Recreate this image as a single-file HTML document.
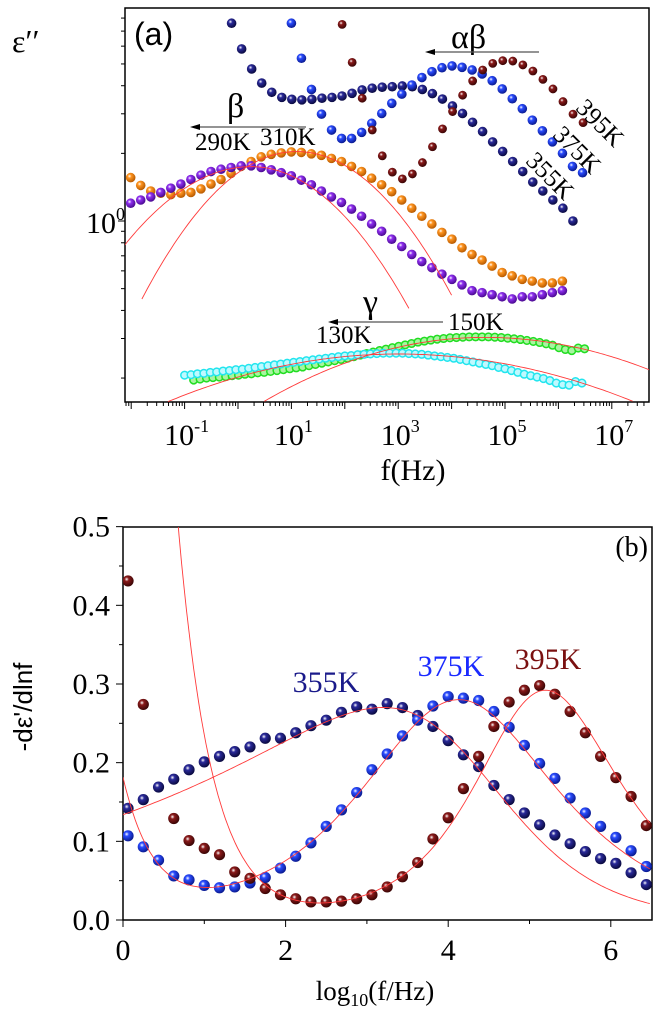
<!DOCTYPE html>
<html><head><meta charset="utf-8"><style>
html,body{margin:0;padding:0;background:#fff;}
svg{display:block;}
.ser{font-family:"Liberation Serif",serif;}
.san{font-family:"Liberation Sans",sans-serif;}
</style></head><body>
<svg id="fig" width="667" height="1022" viewBox="0 0 667 1022" xmlns="http://www.w3.org/2000/svg">
<defs>
<clipPath id="clipA"><rect x="125" y="8" width="524" height="394"/></clipPath>
<clipPath id="clipB"><rect x="123" y="527" width="529" height="393"/></clipPath>
</defs>
<g id="panelA"></g>
<g id="panelB"></g>
</svg>
<script>
// ---------- Panel (a) data: log10(f) grid start, epsilon'' values ----------
var gridStep = 0.188;
var a355Start = -0.12;
var a355 = [7.59,5.83,4.75,4.11,3.74,3.55,3.48,3.46,3.48,3.52,3.55,3.60,3.70,3.83,3.90,3.94,3.96,3.99,3.96,3.85,3.69,3.49,3.25,3.01,2.75,2.50,2.25,2.04,1.84,1.66,1.49,1.36,1.24,1.14,1.00];
var a375Start = 1.0;
var a375 = [7.59,5.30,3.85,2.99,2.54,2.33,2.33,2.48,2.72,3.01,3.34,3.67,4.03,4.35,4.62,4.81,4.90,4.83,4.70,4.51,4.21,3.87,3.50,3.16,2.81,2.52,2.25,2.00,1.75,1.64];
var a395Start = 1.95;
var a395 = [7.50,5.08,3.52,2.54,1.95,1.65,1.54,1.62,1.82,2.14,2.57,3.07,3.63,4.20,4.70,5.03,5.17,5.15,4.95,4.65,4.27,3.87,3.40,2.99,2.74];
var a310Start = -2.01;
var a310 = [1.56,1.44,1.36,1.33,1.31,1.33,1.34,1.39,1.46,1.53,1.63,1.75,1.84,1.93,1.98,2.01,2.03,2.02,1.99,1.96,1.90,1.84,1.75,1.66,1.55,1.45,1.35,1.24,1.14,1.05,0.97,0.89,0.83,0.76,0.71,0.67,0.63,0.59,0.57,0.55,0.54,0.53,0.53,0.54];
var a290Start = -2.01;
var a290 = [1.20,1.24,1.28,1.34,1.40,1.46,1.53,1.60,1.66,1.70,1.73,1.76,1.76,1.73,1.69,1.64,1.59,1.52,1.45,1.36,1.28,1.21,1.13,1.05,0.97,0.90,0.83,0.77,0.71,0.66,0.62,0.58,0.55,0.52,0.49,0.48,0.47,0.46,0.45,0.46,0.46,0.47,0.48,0.49];
var gammaStep = 0.12;
var a150Start = -0.83;
var a150 = [0.196,0.198,0.200,0.201,0.202,0.203,0.205,0.206,0.208,0.209,0.211,0.212,0.214,0.216,0.218,0.220,0.222,0.224,0.227,0.230,0.233,0.236,0.239,0.242,0.245,0.249,0.253,0.257,0.261,0.265,0.269,0.273,0.277,0.281,0.285,0.289,0.292,0.295,0.298,0.300,0.302,0.303,0.304,0.305,0.305,0.305,0.305,0.304,0.303,0.301,0.299,0.297,0.294,0.291,0.288,0.284,0.280,0.273,0.268,0.265,0.272,0.270];
var a130Start = -1.0;
var a130 = [0.206,0.207,0.209,0.210,0.212,0.213,0.215,0.216,0.218,0.219,0.221,0.223,0.225,0.227,0.229,0.231,0.233,0.235,0.237,0.239,0.241,0.243,0.245,0.247,0.249,0.251,0.252,0.254,0.255,0.256,0.257,0.258,0.258,0.258,0.258,0.257,0.256,0.255,0.253,0.251,0.249,0.247,0.245,0.242,0.239,0.236,0.233,0.230,0.227,0.223,0.220,0.216,0.212,0.208,0.205,0.202,0.199,0.195,0.190,0.187,0.186,0.193,0.190];
// fit parameters (log-log parabolas): center logf, peak log10(eps), left/right curvature, range
var fitCenters = [0.25,1.10,4.62,3.0];
var fitPeaks = [0.242,0.309,-0.518,-0.592];
var fitBL = [0.062,0.078,0.0167,0.0114];
var fitBR = [0.0725,0.076,0.0152,0.0109];
var fitLo = [-2.15,-1.80,0.49,-1.31];
var fitHi = [3.2,4.01,7.8,7.4];
var xTicksA = [-1,1,3,5,7];

// ---------- Panel (b) data ----------
var bStart = 0.062, bStep = 0.1875;
var b355 = [0.142,0.153,0.169,0.179,0.191,0.201,0.208,0.214,0.220,0.231,0.231,0.238,0.247,0.254,0.264,0.271,0.268,0.275,0.270,0.260,0.246,0.228,0.210,0.195,0.171,0.153,0.136,0.121,0.108,0.097,0.087,0.078,0.072,0.060,0.045];
var b375 = [0.107,0.093,0.076,0.056,0.051,0.044,0.041,0.042,0.047,0.054,0.066,0.081,0.098,0.119,0.140,0.162,0.191,0.211,0.234,0.254,0.272,0.284,0.282,0.279,0.265,0.245,0.222,0.199,0.180,0.155,0.136,0.119,0.105,0.088,0.068];
var b395 = [0.431,0.274,null,0.129,0.101,0.091,0.083,0.061,0.053,0.040,0.032,0.027,0.023,0.023,0.024,0.027,0.032,0.042,0.055,0.073,0.103,0.130,0.167,0.208,0.246,0.277,0.292,0.298,0.287,0.265,0.238,0.208,0.181,0.157,0.120];
var bFitH = [0.2155,0.28,0.29];
var bFitC = [4.17,4.1,5.1];
var bFitP = [0.28,0.95,1.4];
var bFitQ = [1.3,0.9,1.1];
var bFitK = [0,0.17,2.5];
var bFitS = [0,1.15,1.03];
var yTicksB = [0,0.1,0.2,0.3,0.4,0.5];
var xTicksB = [0,2,4,6];

var NS = "http://www.w3.org/2000/svg";
function mk(tag, parent, attrs){ var e=document.createElementNS(NS,tag); for(var k in attrs) e.setAttribute(k,attrs[k]); parent.appendChild(e); return e; }
var svg=document.getElementById('fig'); var defs=svg.querySelector('defs');
function grad(id,c,d){ var g=mk('radialGradient',defs,{id:id,cx:'0.38',cy:'0.35',r:'0.65'});
 mk('stop',g,{offset:'0','stop-color':'#ffffff'}); mk('stop',g,{offset:'0.3','stop-color':c}); mk('stop',g,{offset:'1','stop-color':d}); }
grad('gNavy','#2a2a9a','#0a0a40'); grad('gBlue','#2a4cff','#0a1a90'); grad('gBrown','#8a1a1a','#3a0505');
grad('gOrange','#ff9520','#b85a00'); grad('gPurple','#8f2ff0','#4a0a90');

var A=document.getElementById('panelA'), B=document.getElementById('panelB');
function xA(lf){return 238+lf*53.4;}
function yA(e){return 221-224.7*Math.log10(e);}
function xB(v){return 123+v*81.3;}
function yB(v){return 920-v*786.7;}

// ---- Panel A frame and ticks ----
var frA=mk('rect',A,{x:125,y:8,width:524,height:394,fill:'none',stroke:'#000','stroke-width':1.5});
 
var ax=mk('g',A,{stroke:'#000','stroke-width':1});
 
for(var d=-3; d<=8; d++){ for(var m=1;m<=9;m++){ var lf=d+Math.log10(m); var x=xA(lf); if(x<125||x>649) continue;
 mk('line',ax,{x1:x,x2:x,y1:402,y2:402+(m==1?7:4)}); } }
var ay=mk('g',A,{stroke:'#000','stroke-width':1});
 
for(var d=-1; d<=1; d++){ for(var m=1;m<=9;m++){ var v=m*Math.pow(10,d); var y=yA(v); if(y<8||y>402) continue;
 mk('line',ay,{x1:125-(m==1&&d==0?7:4),x2:125,y1:y,y2:y}); } }
xTicksA.forEach(function(t){
 var tx=mk('text',A,{x:xA(t)+2,y:445,'font-size':30,'text-anchor':'middle',class:'ser'});
  
 tx.textContent='10'; var s=mk('tspan',tx,{dy:-13,'font-size':18}); s.textContent=String(t);
});
var yl0=mk('text',A,{x:86,y:233,'font-size':30,class:'ser'});
 
yl0.textContent='10'; var s0=mk('tspan',yl0,{dy:-13,'font-size':18}); s0.textContent='0';
var xlab=mk('text',A,{x:413,y:480,'font-size':30,'text-anchor':'middle',class:'ser'});
  xlab.textContent='f(Hz)';
var ylab=mk('text',A,{x:12,y:52,'font-size':32,class:'ser'});
  ylab.textContent='ε′′';

var gA=mk('g',A,{'clip-path':'url(#clipA)'});
function balls(parent,start,step,vals,fill,r,name,xf,yf){
 var g=mk('g',parent,{});
  
 vals.forEach(function(v,i){ if(v===null) return; var c=mk('circle',g,{cx:xf(start+i*step),cy:yf(v),r:r,fill:fill});
    });
}
function rings(parent,start,step,vals,stroke,fill,name){
 var g=mk('g',parent,{});
  
 vals.forEach(function(v,i){ var c=mk('circle',g,{cx:xA(start+i*step),cy:yA(v),r:3.8,fill:fill,stroke:stroke,'stroke-width':1.5});
    });
}
balls(gA,a310Start,gridStep,a310,'url(#gOrange)',4.8,'series-310k',xA,yA);
balls(gA,a290Start,gridStep,a290,'url(#gPurple)',4.8,'series-290k',xA,yA);
balls(gA,a355Start,gridStep,a355,'url(#gNavy)',4.8,'series-355k',xA,yA);
balls(gA,a375Start,gridStep,a375,'url(#gBlue)',4.8,'series-375k',xA,yA);
balls(gA,a395Start,gridStep,a395,'url(#gBrown)',4.4,'series-395k',xA,yA);
rings(gA,a150Start,gammaStep,a150,'#22dd22','#a8f5a0','series-150k');
rings(gA,a130Start,gammaStep,a130,'#22e5ee','#bff9ff','series-130k');
for(var i=0;i<fitCenters.length;i++){
 var pts=[]; for(var lf=fitLo[i]; lf<=fitHi[i]+1e-9; lf+=0.05){ var dd=lf-fitCenters[i]; var b=dd<0?fitBL[i]:fitBR[i];
  var le=fitPeaks[i]-b*dd*dd; pts.push(xA(lf).toFixed(1)+','+(221-224.7*le).toFixed(1)); }
 var pl=mk('polyline',gA,{points:pts.join(' '),fill:'none',stroke:'#ff3a3a','stroke-width':0.9});
  
}
// annotations A
function txt(parent,x,y,size,cls,str,name,fill,anchor){ var t=mk('text',parent,{x:x,y:y,'font-size':size,class:cls,fill:fill||'#000','text-anchor':anchor||'start'});
   t.textContent=str; return t; }
function arrow(parent,x1,x2,y,name){ var g=mk('g',parent,{});
  
 mk('line',g,{x1:x1,x2:x2+6,y1:y,y2:y,stroke:'#555','stroke-width':1.3});
 mk('polygon',g,{points:x2+','+y+' '+(x2+10)+','+(y-3)+' '+(x2+10)+','+(y+3),fill:'#000'}); }
txt(A,134,45,32,'san','(a)','panel-label-a');
txt(A,451,48,34,'ser','αβ','alpha-beta-label');
arrow(A,539,425,52,'alpha-beta-arrow');
txt(A,227,117,34,'ser','β','beta-label');
arrow(A,306,190,127,'beta-arrow');
txt(A,195,150,25,'ser','290K','label-290k');
txt(A,260,145,25,'ser','310K','label-310k');
txt(A,363,313,34,'ser','γ','gamma-label');
arrow(A,443,328,322,'gamma-arrow');
txt(A,448,330,25,'ser','150K','label-150k');
txt(A,316,343,25,'ser','130K','label-130k');
[[600,123,'395K'],[577,150,'375K'],[550,176,'355K']].forEach(function(L){
 var t=txt(A,L[0],L[1]+8,25,'ser',L[2],'curve-label-'+L[2].toLowerCase(),'#000','middle');
 t.setAttribute('transform','rotate(45 '+L[0]+' '+L[1]+')'); });

// ---- Panel B ----
var frB=mk('rect',B,{x:123,y:527,width:529,height:393,fill:'none',stroke:'#000','stroke-width':1.5});
 
var bx=mk('g',B,{stroke:'#000','stroke-width':1});
 
for(var v=0; v<=6; v++){ mk('line',bx,{x1:xB(v),x2:xB(v),y1:920,y2:920+(v%2==0?7:4)}); }
var by=mk('g',B,{stroke:'#000','stroke-width':1});
 
for(var k=0;k<=10;k++){ var v=k*0.05; mk('line',by,{x1:123-(k%2==0?7:4),x2:123,y1:yB(v),y2:yB(v)}); }
yTicksB.forEach(function(t){ txt(B,110,yB(t)+10,30,'ser',t.toFixed(1),'y-tick-label-b','#000','end'); });
xTicksB.forEach(function(t){ txt(B,xB(t),960,30,'ser',String(t),'x-tick-label-b','#000','middle'); });
var xl=txt(B,375,1000,27,'ser','log','x-axis-title-b','#000','middle');
var sub=mk('tspan',xl,{dy:6,'font-size':18}); sub.textContent='10';
var rest=mk('tspan',xl,{dy:-6}); rest.textContent='(f/Hz)';
var yl=txt(B,0,0,26,'san',"-dε'/dlnf",'y-axis-title-b','#000','middle');
yl.setAttribute('transform','translate(32 707) rotate(-90)');
txt(B,648,556,28,'ser','(b)','panel-label-b','#000','end');

var gB=mk('g',B,{'clip-path':'url(#clipB)'});
balls(gB,bStart,bStep,b355,'url(#gNavy)',5.6,'series-b-355k',xB,yB);
balls(gB,bStart,bStep,b375,'url(#gBlue)',5.6,'series-b-375k',xB,yB);
balls(gB,bStart,bStep,b395,'url(#gBrown)',5.6,'series-b-395k',xB,yB);
for(var i=0;i<bFitH.length;i++){
 var pts=[]; for(var x=0; x<=6.51; x+=0.03){
  var v=2*bFitH[i]/(Math.exp(-bFitP[i]*(x-bFitC[i]))+Math.exp(bFitQ[i]*(x-bFitC[i])))+bFitK[i]*Math.pow(10,-bFitS[i]*x);
  pts.push(xB(x).toFixed(1)+','+Math.max(yB(v),500).toFixed(1)); }
 var pl=mk('polyline',gB,{points:pts.join(' '),fill:'none',stroke:'#ff3a3a','stroke-width':0.9});
  
}
txt(B,326,692,30,'ser','355K','label-b-355k','#1a1a8a','middle');
txt(B,451,676,30,'ser','375K','label-b-375k','#1a2aff','middle');
txt(B,548,669,30,'ser','395K','label-b-395k','#7a1010','middle');
</script>
</body></html>
